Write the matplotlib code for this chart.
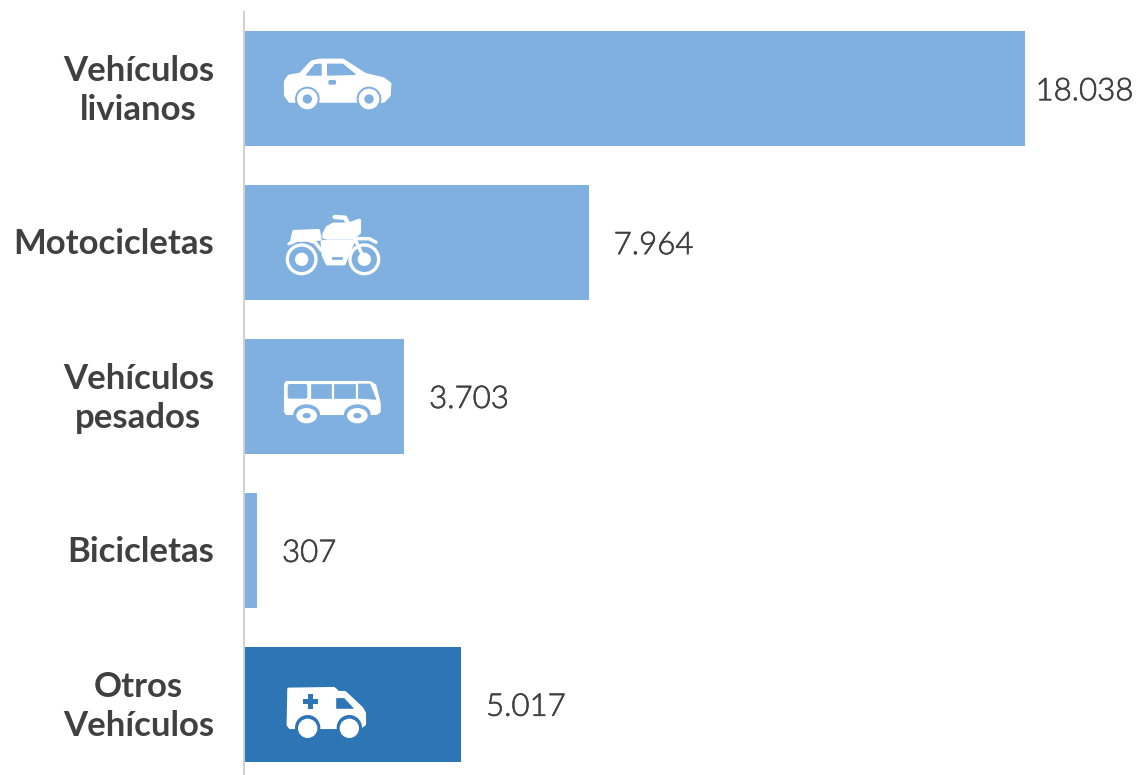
import matplotlib
matplotlib.use("Agg")
import matplotlib.pyplot as plt
import matplotlib.patheffects as pe
from matplotlib.transforms import ScaledTranslation
from matplotlib.patches import Circle, Ellipse, Polygon, FancyBboxPatch, Rectangle

categories = ["Vehículos\nlivianos", "Motocicletas", "Vehículos\npesados", "Bicicletas", "Otros\nVehículos"]
values = [18038, 7964, 3703, 307, 5017]
value_labels = ["18.038", "7.964", "3.703", "307", "5.017"]
bar_colors = ["#7FB0E0", "#7FB0E0", "#7FB0E0", "#7FB0E0", "#2E75B6"]

W, H = 1138, 775
TEXT = "#404040"
LIGHT = "#7FB0E0"
DARK = "#2E75B6"
WHITE = "white"

fig = plt.figure(figsize=(W / 100, H / 100), dpi=100)
# axes run a bit past the bottom of the figure, like the original crop
ax = fig.add_axes([243.7 / W, (H - 781.2) / H, 781.3 / W, 769.5 / H])
ax.barh(range(5), values, height=0.75, color=bar_colors, zorder=2)
ax.set_ylim(4.5, -0.5)
ax.set_xlim(0, 18038)
for i, v in enumerate(values):
    gap = 10.5 if v == max(values) else 25
    t = ax.annotate(value_labels[i], (v, i), xytext=(gap * 0.72, -2.2), textcoords="offset points",
                    ha="left", va="center", fontsize=22.5, color=TEXT,
                    family="Lato", fontweight=300, annotation_clip=False)
    t.set_path_effects([pe.withStroke(linewidth=0.45, foreground=TEXT)])
ax.set_yticks(range(5))
ax.set_yticklabels(categories, family="Lato", fontweight="bold", fontsize=25,
                   color=TEXT, linespacing=1.27, multialignment="center")
ax.tick_params(axis="y", length=0, pad=21.5)
for lab in ax.get_yticklabels():
    # centre by eye, matplotlib puts them a touch low
    dy = 4.5 if "\n" in lab.get_text() else 1.6
    lab.set_transform(lab.get_transform() + ScaledTranslation(0, dy / 100, fig.dpi_scale_trans))
ax.xaxis.set_visible(False)
for s in ["top", "right", "bottom"]:
    ax.spines[s].set_visible(False)
ax.spines["left"].set_color("#D0D0D0")
ax.spines["left"].set_linewidth(1.4)

# overlay in pixel coords for the white pictograms
ov = fig.add_axes([0, 0, 1, 1], zorder=5)
ov.set_xlim(0, W)
ov.set_ylim(H, 0)
ov.axis("off")


def poly(ox, oy, pts, color=WHITE, lw=2.0):
    p = [(ox + x / 3, oy + y / 3) for x, y in pts]
    ov.add_patch(Polygon(p, closed=True, fc=color, ec=color, lw=lw, joinstyle="round"))


def circ(ox, oy, x, y, r, color=WHITE):
    ov.add_patch(Circle((ox + x / 3, oy + y / 3), r / 3, fc=color, ec="none"))


def ell(ox, oy, x, y, rx, ry, color=WHITE):
    ov.add_patch(Ellipse((ox + x / 3, oy + y / 3), 2 * rx / 3, 2 * ry / 3, fc=color, ec="none"))


def box(ox, oy, x0, y0, x1, y1, color, rad=1.5):
    ov.add_patch(FancyBboxPatch((ox + x0 / 3 + rad, oy + y0 / 3 + rad),
                                (x1 - x0) / 3 - 2 * rad, (y1 - y0) / 3 - 2 * rad,
                                boxstyle="round,pad=%s" % rad, fc=color, ec="none"))


def line(ox, oy, pts, lw=3.0, color=WHITE):
    ov.plot([ox + x / 3 for x, y in pts], [oy + y / 3 for x, y in pts],
            color=color, lw=lw, solid_capstyle="round", solid_joinstyle="round")


# car
ox, oy = 270, 50
poly(ox, oy, [(48, 95), (58, 80), (92, 74), (125, 38), (150, 32), (218, 32), (285, 75),
              (340, 88), (358, 102), (356, 135), (340, 152), (60, 152), (48, 135)], lw=3)
poly(ox, oy, [(110, 75), (135, 44), (153, 43), (153, 75)], LIGHT, lw=1)
poly(ox, oy, [(173, 43), (218, 43), (255, 73), (173, 75)], LIGHT, lw=1)
box(ox, oy, 175, 90, 198, 104, LIGHT, rad=1.5)
for cx in (112, 297):
    circ(ox, oy, cx, 147, 37, LIGHT)
    circ(ox, oy, cx, 147, 31)
    circ(ox, oy, cx, 147, 14, LIGHT)

# motorbike
ox, oy = 270, 205
for cx in (95, 283):
    circ(ox, oy, cx, 163, 48)
    circ(ox, oy, cx, 163, 38, LIGHT)
    circ(ox, oy, cx, 163, 20)
poly(ox, oy, [(162, 88), (172, 68), (190, 58), (235, 58), (268, 46), (268, 82), (250, 99),
              (172, 99), (162, 96)], lw=2.5)
poly(ox, oy, [(72, 80), (145, 77), (150, 102), (66, 106)], lw=2.5)
poly(ox, oy, [(157, 110), (250, 110), (232, 150), (222, 176), (172, 176), (160, 150)], lw=2.5)
poly(ox, oy, [(187, 155), (217, 155), (217, 161), (187, 161)], LIGHT, lw=0.5)
line(ox, oy, [(57, 116), (80, 106), (110, 104), (135, 112), (153, 135)], lw=2.5)
line(ox, oy, [(255, 102), (283, 163)], lw=2.5)
line(ox, oy, [(258, 101), (298, 101), (318, 112)], lw=2.5)
line(ox, oy, [(194, 36), (225, 38), (238, 62)], lw=3.2)

# bus
ox, oy = 270, 370
poly(ox, oy, [(50, 36), (300, 36), (316, 46), (329, 100), (329, 125), (320, 132), (50, 132), (45, 125), (45, 42)], lw=1.5)
box(ox, oy, 53, 42, 112, 86, LIGHT, rad=2)
poly(ox, oy, [(122, 42), (183, 42), (183, 85), (122, 85)], LIGHT, lw=0.5)
poly(ox, oy, [(193, 42), (255, 42), (255, 85), (193, 85)], LIGHT, lw=0.5)
poly(ox, oy, [(265, 42), (300, 42), (318, 88), (265, 85)], LIGHT, lw=0.5)
for cx in (110, 262):
    ell(ox, oy, cx, 133, 40, 30, LIGHT)
    ell(ox, oy, cx, 137, 31, 23)
    ell(ox, oy, cx, 137, 12, 8, LIGHT)

# ambulance
ox, oy = 270, 675
poly(ox, oy, [(56, 42), (192, 40), (205, 52), (225, 52), (276, 100), (284, 115), (284, 148),
              (270, 158), (60, 158), (54, 150)], lw=2)
poly(ox, oy, [(200, 70), (222, 70), (250, 100), (200, 100)], DARK, lw=0.5)
ov.add_patch(Rectangle((ox + 99 / 3, oy + 73 / 3), 46 / 3, 14 / 3, fc=DARK, ec="none"))
ov.add_patch(Rectangle((ox + 115 / 3, oy + 57 / 3), 14 / 3, 46 / 3, fc=DARK, ec="none"))
for cx in (113, 238):
    circ(ox, oy, cx, 158, 38, DARK)
    circ(ox, oy, cx, 160, 29)

fig.savefig("out.png", dpi=100)
